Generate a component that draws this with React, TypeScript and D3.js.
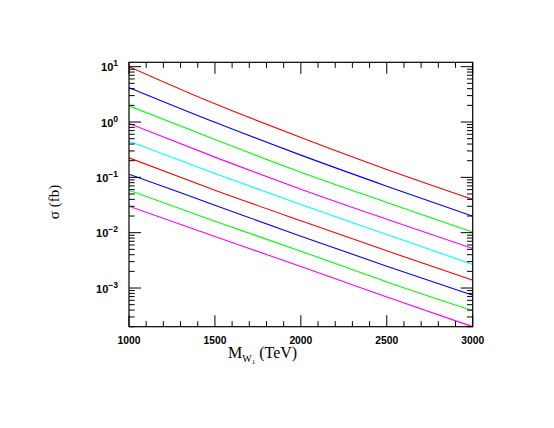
import React from "react";
import * as d3 from "d3";

const masses = [1000, 1500, 2000, 2500, 3000];
const xTickLabels = [1000, 1500, 2000, 2500, 3000];
const yTickExponents = [1, 0, -1, -2, -3];

const redA = [10, 2.13, 0.526, 0.139, 0.04];
const blueA = [4.2, 0.99, 0.252, 0.0693, 0.0199];
const greenA = [1.96, 0.483, 0.124, 0.0352, 0.0102];
const magentaA = [0.94, 0.232, 0.0611, 0.0175, 0.0052];
const cyanA = [0.45, 0.117, 0.0324, 0.00927, 0.00267];
const redB = [0.225, 0.0586, 0.0164, 0.0047, 0.00139];
const blueB = [0.114, 0.0314, 0.00865, 0.00248, 0.00074];
const greenB = [0.0586, 0.0161, 0.00463, 0.00129, 0.00039];
const magentaB = [0.03, 0.00855, 0.00245, 0.00069, 0.0002];

const series = [
  { values: redA, color: "#ff0000" },
  { values: blueA, color: "#0000ff" },
  { values: greenA, color: "#00ff00" },
  { values: magentaA, color: "#ff00ff" },
  { values: cyanA, color: "#00ffff" },
  { values: redB, color: "#ff0000" },
  { values: blueB, color: "#0000ff" },
  { values: greenB, color: "#00ff00" },
  { values: magentaB, color: "#ff00ff" },
];

const L = 129, R = 472.7, T = 62.3, B = 326.7;

export default function App() {
  const x = d3.scaleLinear().domain([1000, 3000]).range([L, R]);
  const y = d3.scaleLog().domain([2e-4, 12]).range([B, T]);
  const line = d3
    .line<[number, number]>()
    .x((d) => x(d[0]))
    .y((d) => y(d[1]))
    .curve(d3.curveMonotoneX);

  const xMinor = d3.range(1000, 3001, 100);
  const yMinor: number[] = [];
  for (let e = -4; e <= 1; e++) {
    for (let m = 1; m <= 9; m++) {
      const v = m * Math.pow(10, e);
      if (v >= 2e-4 && v <= 12) yMinor.push(v);
    }
  }
  const tickFont = "'Liberation Sans', Arial, sans-serif";
  const serif = "'Liberation Serif', 'Times New Roman', serif";

  return (
    <svg width={554} height={428} style={{ position: "absolute", left: 0, top: 0, background: "#fff" }}>
      <rect x={0} y={0} width={554} height={428} fill="#fff" />
      <g clipPath="url(#clip)">
        <defs>
          <clipPath id="clip">
            <rect x={L} y={T} width={R - L} height={B - T} />
          </clipPath>
        </defs>
        {series.map((s, i) => (
          <path
            key={i}
            d={line(masses.map((m, j) => [m, s.values[j]] as [number, number])) || ""}
            fill="none"
            stroke={s.color}
            strokeWidth={1.1}
          />
        ))}
      </g>
      {/* ticks */}
      <g stroke="#000" strokeWidth={1}>
        {xMinor.map((v) => {
          const major = v % 500 === 0;
          const len = major ? 11.5 : 5.5;
          return (
            <g key={"x" + v}>
              <line x1={x(v)} x2={x(v)} y1={B} y2={B - len} />
              <line x1={x(v)} x2={x(v)} y1={T} y2={T + len} />
            </g>
          );
        })}
        {yMinor.map((v) => {
          const major = Math.abs(Math.log10(v) - Math.round(Math.log10(v))) < 1e-9;
          const len = major ? 12 : 5.7;
          return (
            <g key={"y" + v}>
              <line x1={L} x2={L + len} y1={y(v)} y2={y(v)} />
              <line x1={R} x2={R - len} y1={y(v)} y2={y(v)} />
            </g>
          );
        })}
      </g>
      <rect x={L} y={T} width={R - L} height={B - T} fill="none" stroke="#000" strokeWidth={1.2} />
      {/* x tick labels */}
      {xTickLabels.map((v) => (
        <text
          key={"xl" + v}
          x={x(v)}
          y={344}
          textAnchor="middle"
          fontFamily={tickFont}
          fontWeight="bold"
          fontSize={10.3}
          fill="#000"
        >
          {v}
        </text>
      ))}
      {/* y tick labels */}
      {yTickExponents.map((e) => {
        const yy = y(Math.pow(10, e));
        return (
          <text
            key={"yl" + e}
            x={118}
            y={yy + 4.5}
            textAnchor="end"
            fontFamily={tickFont}
            fontWeight="bold"
            fontSize={11}
            fill="#000"
          >
            10
            <tspan dy={-5} fontSize={8.5}>
              {e < 0 ? "\u2212" + Math.abs(e) : String(e)}
            </tspan>
          </text>
        );
      })}
      {/* x title */}
      <text x={228} y={358} fontFamily={serif} fontSize={16} fill="#000">
        M
        <tspan dy={4} fontSize={10}>W</tspan>
        <tspan dy={2} fontSize={7}>1</tspan>
        <tspan dy={-6} fontSize={16}>{" (TeV)"}</tspan>
      </text>
      {/* y title */}
      <text
        transform="translate(59,202) rotate(-90)"
        textAnchor="middle"
        fontFamily={serif}
        fontSize={15}
        fill="#000"
      >
        σ  (fb)
      </text>
    </svg>
  );
}
